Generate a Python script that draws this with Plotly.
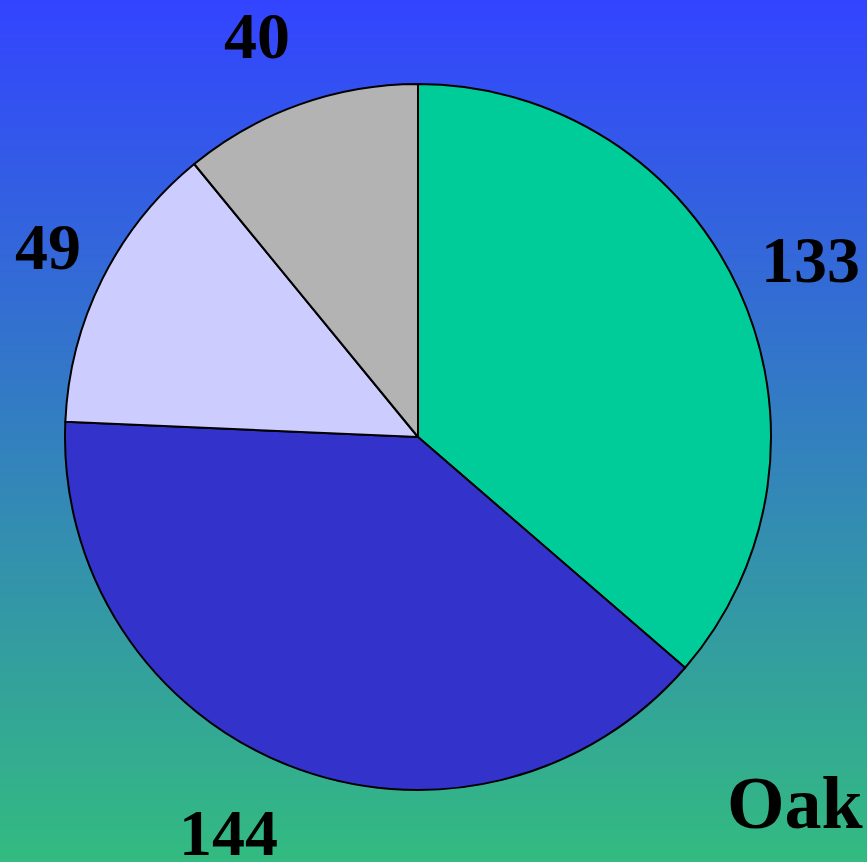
import math
import plotly.graph_objects as go

labels = ["A", "B", "C", "D"]
values = [133, 144, 49, 40]
colors = ["#00cc99", "#3333cc", "#ccccff", "#b3b3b3"]
title_text = "Oak"

W, H = 867, 862
cx, cy, r = 418, 437, 353        # pie centre / radius in pixels (layout)
gap_x, gap_y = 22, 35             # distance of label anchor outside the rim
label_fs = 66

def dom(rad):
    return dict(x=[(cx - rad) / W, (cx + rad) / W],
                y=[(H - cy - rad) / H, (H - cy + rad) / H])

fig = go.Figure()

# gradient background
fig.add_trace(go.Heatmap(
    z=[[0, 0], [1, 1]], x=[0, 1], y=[0, 1], zsmooth="best",
    colorscale=[[0, "#33bb80"], [1, "#3344ff"]], showscale=False,
    hoverinfo="skip", xaxis="x", yaxis="y"))

# the pie itself
fig.add_trace(go.Pie(
    labels=labels, values=values, sort=False, direction="clockwise",
    rotation=0, marker=dict(colors=colors, line=dict(color="black", width=2)),
    textinfo="none", automargin=False,
    domain=dom(r), showlegend=False))

# value labels outside the rim, at each slice's mid angle
total = sum(values)
cum = 0
annotations = []
box_h = label_fs * 1.15
for v in values:
    mid = (cum + v / 2) / total * 2 * math.pi   # clockwise from 12 o'clock
    cum += v
    s, c = math.sin(mid), math.cos(mid)
    px, py = cx + (r + gap_x) * s, cy - (r + gap_y) * c
    annotations.append(dict(
        text=str(v), x=px / W, y=(H - py) / H, xref="paper", yref="paper",
        xanchor="left" if s >= 0 else "right", yanchor="middle",
        yshift=box_h / 2 * c, showarrow=False,
        font=dict(family="Liberation Serif", size=label_fs, color="black", weight="bold")))

fig.update_layout(
    width=W, height=H,
    margin=dict(l=0, r=0, t=0, b=0, autoexpand=False),
    paper_bgcolor="#3377cc", plot_bgcolor="rgba(0,0,0,0)",
    xaxis=dict(domain=[0, 1], range=[0, 1], visible=False, fixedrange=True),
    yaxis=dict(domain=[0, 1], range=[0, 1], visible=False, fixedrange=True),
    annotations=annotations,
    title=dict(text=title_text, x=0.995, xanchor="right", y=0.04, yanchor="bottom",
               automargin=False,
               font=dict(family="Liberation Serif", size=74, color="black", weight="bold")),
)

fig.write_html("out.html", post_script="document.body.style.margin='0';",
               config={"displayModeBar": False})
